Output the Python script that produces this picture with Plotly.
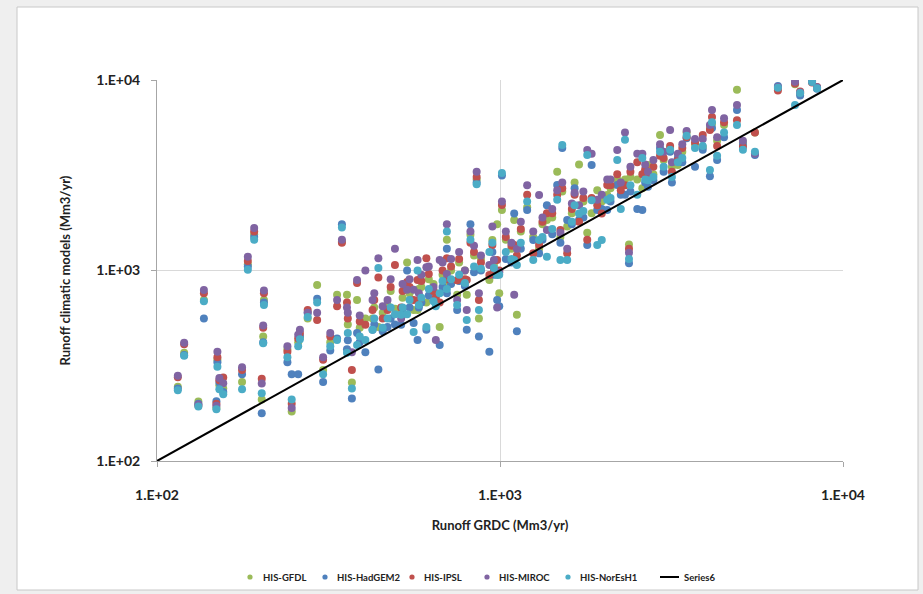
import plotly.graph_objects as go

# GRDC observed runoff per station (Mm3/yr)
grdc = [115, 120, 132, 137, 150, 152, 149, 156, 177, 184, 192, 205, 204, 202, 247, 261, 346, 370,
        240, 258, 275, 293, 305, 335, 358, 383, 405, 425, 442, 470, 494, 515, 536, 560, 575, 610,
        650, 667, 700, 820, 750, 800, 868, 931, 950, 981, 1013, 995, 960, 1100, 1120, 1200, 1250,
        1300, 1370, 1468, 1519, 1500, 1570, 1650, 1700, 1796, 1850, 1921, 1980, 2054, 2197, 2250,
        2314, 2377, 2513, 2600, 2700, 2800, 2928, 3133, 3171, 3300, 3500, 3703, 3900, 4093, 4150,
        4295, 4908, 5108, 5536, 6460, 7247, 7499, 8124, 8400, 855,
        320, 360, 390, 430, 455, 480, 520, 545, 590, 620, 640, 680, 720, 760, 790, 840, 880,
        1040, 1080, 1150, 1330, 1420, 1620, 1750, 2100, 2400, 2650, 3000, 3400, 4500, 580, 700]

his_gfdl = [245, 370, 205, 700, 340, 250, 190, 240, 260, 1080, 1550, 700, 450, 210, 182, 445, 1420, 258,
            386, 420, 560, 838, 300, 745, 745, 700, 560, 560, 505, 660, 630, 600, 1100, 620, 620, 680,
            760, 505, 1450, 1540, 745, 745, 560, 891, 1445, 1750, 2077, 760, 1068, 1840, 585, 2150, 1500,
            1300, 1840, 3300, 2600, 1500, 1700, 2900, 3600, 1580, 2000, 2640, 2300, 2490, 3000, 2810,
            3000, 1370, 3000, 2700, 3580, 3200, 5143, 4400, 3500, 3580, 5300, 4600, 4450, 5600, 5900,
            4800, 8900, 4700, 5300, 9000, 9500, 8500, 9900, 9100, 3000,
            420, 520, 500, 640, 600, 780, 720, 760, 820, 900, 850, 950, 1000, 1100, 1000, 1200, 1150,
            1450, 1300, 1600, 1750, 1900, 2000, 2300, 2700, 3100, 3300, 3800, 4200, 5800, 800, 840]

his_hadgem2 = [240, 360, 200, 560, 330, 258, 206, 230, 285, 1050, 1500, 680, 420, 178, 285, 455, 1750, 213,
               330, 285, 600, 710, 260, 440, 386, 470, 372, 488, 302, 505, 520, 519, 1000, 530, 432, 488,
               680, 406, 1300, 1750, 620, 488, 450, 375, 1250, 700, 3150, 650, 950, 1990, 480, 2077, 1445,
               1230, 2200, 2810, 4400, 1400, 1840, 2700, 1840, 1360, 3580, 2077, 2100, 2077, 2810, 2500,
               2500, 1090, 2100, 2077, 2750, 2980, 4400, 4200, 2900, 3900, 4950, 3500, 4300, 3120, 5600,
               3800, 6950, 4560, 4040, 9300, 9700, 8300, 9800, 9000, 2900,
               380, 430, 420, 520, 480, 560, 600, 640, 680, 740, 700, 820, 850, 880, 830, 980, 1000,
               1150, 1100, 1300, 1450, 1550, 1750, 1900, 2300, 2600, 2900, 3300, 3700, 5000, 640, 760]

his_ipsl = [275, 410, 195, 760, 350, 265, 200, 274, 300, 1120, 1600, 760, 500, 270, 200, 470, 1400, 300,
            375, 440, 620, 550, 340, 650, 680, 860, 519, 620, 920, 620, 1068, 640, 870, 700, 891, 1160,
            720, 680, 1160, 1400, 890, 891, 700, 947, 1360, 1135, 2207, 1000, 1000, 1360, 1200, 2500, 1230,
            1360, 2000, 2500, 2700, 1630, 1230, 2500, 1800, 1450, 2400, 2200, 1990, 2810, 3200, 2640,
            2800, 1300, 3700, 3200, 3100, 3500, 4000, 4500, 3300, 3800, 5000, 4700, 5140, 5460, 6400,
            4500, 6150, 4450, 5300, 8800, 9600, 8700, 9700, 9200, 3100,
            450, 560, 540, 700, 560, 820, 780, 820, 880, 960, 780, 1000, 1050, 1150, 900, 1250, 1100,
            1500, 1350, 1650, 1800, 2000, 2100, 2400, 2800, 3300, 3400, 3900, 4400, 6000, 700, 900]

his_miroc = [280, 418, 198, 790, 374, 273, 195, 256, 311, 1180, 1670, 785, 515, 255, 190, 488, 1450, 372,
             400, 460, 600, 600, 350, 700, 640, 891, 1000, 700, 1160, 700, 1300, 560, 792, 792, 1135, 1040,
             432, 1135, 1750, 1600, 700, 620, 760, 1068, 1700, 640, 2300, 980, 1135, 745, 1300, 2800, 1600,
             2490, 1630, 2640, 2900, 1580, 1300, 2560, 2200, 4290, 4100, 2350, 2500, 3000, 4290, 2900,
             5300, 1240, 4100, 4100, 3300, 3800, 4600, 5464, 3700, 4100, 5400, 4900, 4900, 5800, 6957,
             5000, 7400, 4800, 4100, 9200, 9800, 8600, 9850, 9150, 3300,
             470, 600, 580, 760, 650, 900, 850, 900, 950, 1050, 820, 1100, 1150, 1250, 1000, 1350, 1200,
             1600, 1400, 1800, 1900, 2100, 2250, 2600, 3000, 3500, 3600, 4200, 4600, 6300, 760, 960]

his_noresh1 = [235, 357, 193, 690, 312, 238, 187, 224, 238, 1010, 1450, 660, 415, 227, 210, 435, 1680, 240,
               350, 400, 570, 680, 285, 432, 370, 406, 432, 488, 1030, 560, 590, 585, 590, 475, 1000, 505,
               650, 760, 1600, 1450, 660, 550, 620, 1250, 1400, 947, 3250, 950, 1030, 1135, 1070, 2300, 1135,
               1445, 1180, 2350, 4560, 1135, 1135, 2200, 1990, 4040, 2340, 1360, 1445, 2350, 3800, 2100,
               4850, 1150, 2500, 3900, 2980, 3100, 4200, 4300, 3100, 3700, 5100, 4400, 4500, 3370, 6000,
               4000, 5800, 4300, 4200, 9100, 7400, 8540, 9750, 9050, 2840,
               400, 470, 450, 560, 500, 640, 640, 700, 720, 800, 690, 880, 900, 950, 860, 1050, 1020,
               1250, 1150, 1400, 1500, 1650, 1800, 2050, 2400, 2800, 3000, 3500, 3900, 5300, 660, 800]

series6_x = [100, 10000]
series6_y = [100, 10000]

series = [
    ("HIS-GFDL", his_gfdl, "#9BBB59"),
    ("HIS-HadGEM2", his_hadgem2, "#4F81BD"),
    ("HIS-IPSL", his_ipsl, "#C0504D"),
    ("HIS-MIROC", his_miroc, "#8064A2"),
    ("HIS-NorEsH1", his_noresh1, "#4BACC6"),
]

FONT = "Lato, 'Open Sans', sans-serif"
TXT = "#222222"

fig = go.Figure()
for name, ys, col in series:
    fig.add_trace(go.Scatter(
        x=grdc, y=ys, mode="markers", name=name,
        marker=dict(color=col, size=8, line=dict(width=0)),
    ))
fig.add_trace(go.Scatter(
    x=series6_x, y=series6_y, mode="lines", name="Series6",
    line=dict(color="black", width=2),
))

# plot area geometry (px) used to place the chart frame and legend in paper units
L, R, T, B = 157, 843, 80, 461
W, H = R - L, B - T


def px_x(p):
    return (p - L) / W


def px_y(p):
    return (B - p) / H


# white chart box with thin grey border (Excel chart area)
fig.add_shape(type="rect", xref="paper", yref="paper",
              x0=px_x(17), x1=px_x(918), y0=px_y(590), y1=px_y(7),
              line=dict(color="#c8c8c8", width=1), fillcolor="white", layer="below")

# legend drawn as marks + text (Excel-style compact legend)
leg_y = px_y(577)
leg_marker_px = [250, 325, 412, 487, 568]
leg_text_px = [261, 335, 422, 497, 578]
rx, ry = 2.6 / W, 2.6 / H
for (name, _, col), mx, tx in zip(series, leg_marker_px, leg_text_px):
    fig.add_shape(type="circle", xref="paper", yref="paper",
                  x0=px_x(mx) - rx, x1=px_x(mx) + rx, y0=leg_y - ry, y1=leg_y + ry,
                  fillcolor=col, line=dict(width=0))
    fig.add_annotation(xref="paper", yref="paper", x=px_x(tx), y=leg_y, text=name,
                       showarrow=False, xanchor="left", yanchor="middle",
                       font=dict(family=FONT, size=9.5, color=TXT, weight="bold"))
fig.add_shape(type="line", xref="paper", yref="paper",
              x0=px_x(660), x1=px_x(679), y0=leg_y, y1=leg_y,
              line=dict(color="black", width=2))
fig.add_annotation(xref="paper", yref="paper", x=px_x(682), y=leg_y, text="Series6",
                   showarrow=False, xanchor="left", yanchor="middle",
                   font=dict(family=FONT, size=9.5, color=TXT, weight="bold"))

axis_common = dict(
    type="log",
    showgrid=True, gridcolor="#d9d9d9", gridwidth=1,
    showline=True, linecolor="#a6a6a6", linewidth=1,
    ticks="outside", ticklen=5, tickcolor="#a6a6a6",
    tickvals=[100, 1000, 10000], ticktext=["1.E+02", "1.E+03", "1.E+04"],
    tickfont=dict(family=FONT, size=14, color=TXT, weight="bold"),
    zeroline=False,
)

fig.update_xaxes(
    range=[2, 4],
    title=dict(text="Runoff GRDC (Mm3/yr)", standoff=19,
               font=dict(family=FONT, size=13, color=TXT, weight="bold")),
    ticklabelstandoff=16,
    **axis_common,
)
fig.update_yaxes(
    range=[2, 4],
    title=dict(text="Runoff climatic models (Mm3/yr)", standoff=22,
               font=dict(family=FONT, size=13, color=TXT, weight="bold")),
    ticklabelstandoff=8,
    **axis_common,
)

fig.update_layout(
    width=923, height=594,
    margin=dict(l=L, r=923 - R, t=T, b=594 - B, autoexpand=False),
    paper_bgcolor="#efefef",
    plot_bgcolor="white",
    showlegend=False,
)

fig.write_html("out.html")
